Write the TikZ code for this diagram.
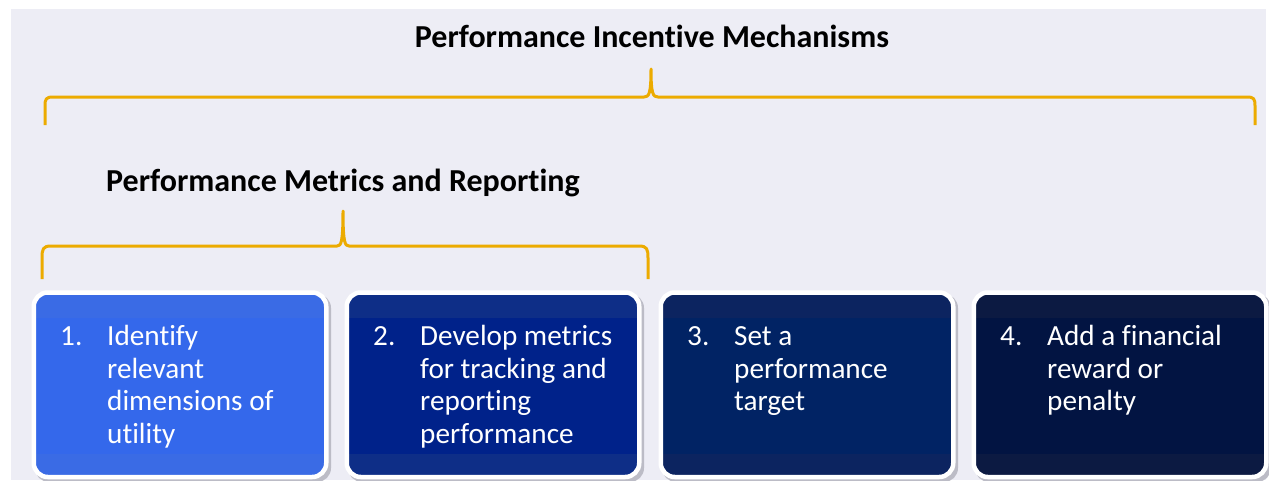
\documentclass[tikz,border=0pt]{standalone}
\usepackage{fontspec}
\setmainfont{Carlito}[Ligatures=NoCommon]
\definecolor{pagebg}{RGB}{237,237,245}
\definecolor{bracegold}{RGB}{236,171,0}
\definecolor{cardshadow}{RGB}{188,188,198}
\definecolor{cardAmain}{RGB}{52,104,235}
\definecolor{cardAband}{RGB}{58,107,229}
\definecolor{cardBmain}{RGB}{0,34,138}
\definecolor{cardBband}{RGB}{14,46,135}
\definecolor{cardCmain}{RGB}{1,35,100}
\definecolor{cardCband}{RGB}{12,36,96}
\definecolor{cardDmain}{RGB}{2,20,66}
\definecolor{cardDband}{RGB}{12,26,66}
\tikzset{
  heading/.style={font=\bfseries\fontsize{32}{38}\selectfont, text=black, inner sep=0pt},
  cardframe/.style={draw=white, line width=4.5pt, rounded corners=14pt,
    minimum width=292.5pt, minimum height=184.5pt, inner sep=0pt},
  cardtext/.style={font=\fontsize{29.2}{32.7}\selectfont, text=white, inner sep=0pt,
    anchor=base west},
  bracepath/.style={draw=bracegold, line width=3pt, line join=round},
}
% one numbered card: #1 name, #2 inner left edge, #3 main colour, #4 band colour,
% #5 number, #6 lines of text
\newcommand{\stepcard}[6]{%
  \fill[cardshadow, rounded corners=14pt] (#2-1,294) rectangle (#2+295,482);
  \begin{scope}
    \clip[rounded corners=12pt] (#2-1,294) rectangle (#2+289,476);
    \fill[#3] (#2-1,294) rectangle (#2+289,476);
    \fill[#4] (#2-1,294) rectangle (#2+289,318);
    \fill[#4] (#2-1,454) rectangle (#2+289,476);
  \end{scope}
  \node[cardframe] (#1) at (#2+144,384.75) {};
  \node[cardtext] (#1text) at (#2+24,345.5)
    {\makebox[47pt][l]{#5}\parbox[t]{210pt}{\raggedright #6}};
}
\begin{document}
\begin{tikzpicture}[x=1pt,y=-1pt]
  \useasboundingbox (0,0) rectangle (1269,480);
  \fill[white] (0,0) rectangle (1269,480);
  \fill[pagebg] (11,9) rectangle (1266,480);

  % headings
  \node[heading, anchor=base] (incentive) at (652,47.7) {Performance Incentive Mechanisms};
  \node[heading, anchor=base] (metrics) at (343,191.7) {Performance Metrics and Reporting};

  % brace spanning all four steps
  \coordinate (incL) at (45,125);
  \coordinate (incR) at (1255,125);
  \coordinate (incTip) at (651,69);
  \draw[bracepath] (incL) -- (45,106) .. controls (45,99) and (46,97) .. (53,97)
    -- (644,97) .. controls (649,97) and (651,94) .. (incTip)
    .. controls (651,94) and (653,97) .. (658,97)
    -- (1247,97) .. controls (1254,97) and (1255,99) .. (1255,106) -- (incR);

  % brace spanning the first two steps
  \coordinate (metL) at (42,279);
  \coordinate (metR) at (648,279);
  \coordinate (metTip) at (343,211);
  \draw[bracepath] (metL) -- (42,258) .. controls (42,249) and (43,246) .. (51,246)
    -- (337,246) .. controls (341,246) and (343,243) .. (metTip)
    .. controls (343,243) and (345,246) .. (349,246)
    -- (639,246) .. controls (647,246) and (648,249) .. (648,258) -- (metR);

  % the four steps
  \stepcard{stepone}{36}{cardAmain}{cardAband}{1.}{Identify\\relevant\\dimensions of\\utility}
  \stepcard{steptwo}{349}{cardBmain}{cardBband}{2.}{Develop metrics\\for tracking and\\reporting\\performance}
  \stepcard{stepthree}{663}{cardCmain}{cardCband}{3.}{Set a\\performance\\target}
  \stepcard{stepfour}{976}{cardDmain}{cardDband}{4.}{Add a financial\\reward or\\penalty}
\end{tikzpicture}
\end{document}
